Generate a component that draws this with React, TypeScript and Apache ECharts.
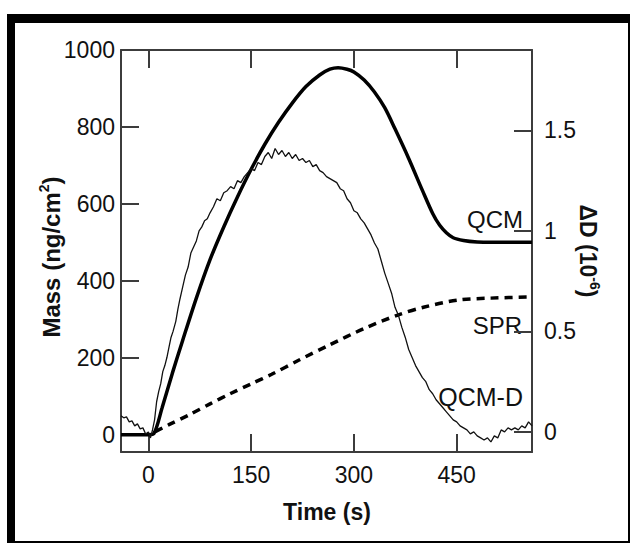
import React, { useEffect, useRef } from "react";
import * as echarts from "echarts";

// ---- data ----
const qcmTime = [-40, 0, 8, 20, 35, 50, 70, 90, 110, 130, 150, 170, 190, 210, 230, 250, 265, 277, 290, 300, 315, 330, 345, 360, 380, 400, 415, 425, 435, 445, 460, 480, 500, 530, 560];
const qcmMass = [0, 0, 3, 70, 160, 245, 355, 455, 540, 618, 690, 755, 812, 862, 905, 935, 950, 954, 950, 943, 922, 891, 850, 795, 718, 635, 575, 545, 525, 512, 505, 501, 500, 500, 500];

const sprTime = [10, 30, 60, 90, 120, 150, 180, 220, 264, 315, 364, 403, 452, 500, 560];
const sprMass = [8, 26, 52, 80, 107, 132, 157, 194, 233, 276, 311, 332, 350, 355, 358];

const qcmdTime = [-40, -36, -32, -28, -24, -20, -16, -12, -8, -4, 0, 3, 6, 9, 12, 15, 18, 21, 24, 27, 30, 33, 36, 40, 43, 46, 50, 54, 58, 62, 66, 70, 74, 78, 82, 86, 90, 95, 100, 105, 110, 115, 120, 125, 130, 135, 140, 145, 150, 155, 160, 165, 170, 175, 180, 185, 190, 195, 200, 205, 210, 215, 220, 225, 230, 235, 240, 245, 250, 255, 260, 265, 270, 275, 280, 285, 290, 295, 300, 305, 310, 315, 320, 325, 330, 335, 340, 345, 350, 355, 360, 365, 370, 375, 380, 385, 390, 395, 400, 405, 410, 415, 420, 425, 430, 435, 440, 445, 450, 455, 460, 465, 470, 475, 480, 485, 490, 495, 500, 505, 510, 515, 520, 525, 530, 535, 540, 545, 550, 555, 560];
const qcmdD = [0.08, 0.07, 0.075, 0.05, 0.055, 0.03, 0.04, 0.015, 0.02, -0.01, 0.0, -0.03, 0.01, 0.06, 0.15, 0.2, 0.24, 0.3, 0.33, 0.37, 0.42, 0.47, 0.5, 0.55, 0.61, 0.66, 0.72, 0.78, 0.82, 0.89, 0.92, 0.95, 1.0, 1.02, 1.05, 1.06, 1.09, 1.12, 1.16, 1.15, 1.19, 1.2, 1.22, 1.21, 1.25, 1.24, 1.27, 1.29, 1.31, 1.3, 1.34, 1.33, 1.37, 1.39, 1.36, 1.41, 1.38, 1.4, 1.37, 1.39, 1.36, 1.38, 1.35, 1.36, 1.34, 1.35, 1.32, 1.33, 1.3, 1.29, 1.27, 1.26, 1.25, 1.24, 1.21, 1.2, 1.16, 1.14, 1.1, 1.09, 1.06, 1.04, 1.01, 0.98, 0.94, 0.91, 0.85, 0.79, 0.74, 0.69, 0.62, 0.58, 0.52, 0.47, 0.41, 0.37, 0.33, 0.3, 0.27, 0.25, 0.21, 0.19, 0.16, 0.14, 0.12, 0.1, 0.08, 0.06, 0.05, 0.03, 0.02, 0.01, -0.01, 0.0, -0.02, -0.03, -0.04, -0.03, -0.05, -0.02, -0.03, 0.01, 0.0, 0.02, 0.01, 0.02, 0.01, 0.03, 0.02, 0.05, 0.03];

const xTicks = [0, 150, 300, 450];
const massTicks = [0, 200, 400, 600, 800, 1000];
const dTicks = [0, 0.5, 1, 1.5];

const FONT = "Liberation Sans, Arial, Helvetica, sans-serif";
const AX = "#3c3c3c";

function zip(a: number[], b: number[]) {
  return a.map((v, i) => [v, b[i]]);
}

export default function App() {
  const ref = useRef<HTMLDivElement>(null);
  useEffect(() => {
    if (!ref.current) return;
    const chart = echarts.init(ref.current, undefined, { renderer: "svg" });
    const axisLine = { show: true, onZero: false, lineStyle: { color: AX, width: 2 } };
    const tick = (vals: number[]) => ({ show: true, inside: true, length: 18, customValues: vals, lineStyle: { color: AX, width: 2 } });
    const lbl = { color: "#111", fontSize: 23, fontFamily: FONT, formatter: (v: number) => String(v) };
    chart.setOption({
      animation: false,
      backgroundColor: "transparent",
      grid: { left: 121, top: 50, width: 411, height: 402, show: false },
      xAxis: [
        {
          type: "value", min: -40, max: 560, position: "bottom",
          axisLine, axisTick: tick(xTicks), splitLine: { show: false },
          axisLabel: { ...lbl, margin: 11, customValues: xTicks },
        },
        {
          type: "value", min: -40, max: 560, position: "top",
          axisLine, axisTick: tick(xTicks), splitLine: { show: false },
          axisLabel: { show: false },
        },
      ],
      yAxis: [
        {
          type: "value", min: -45, max: 1000, position: "left",
          axisLine, axisTick: tick(massTicks), splitLine: { show: false },
          axisLabel: { ...lbl, margin: 6, customValues: massTicks },
        },
        {
          type: "value", min: -0.1, max: 1.9, position: "right",
          axisLine, axisTick: tick(dTicks), splitLine: { show: false },
          axisLabel: { ...lbl, margin: 12, customValues: dTicks },
        },
      ],
      series: [
        {
          name: "QCM", type: "line", xAxisIndex: 0, yAxisIndex: 0,
          data: zip(qcmTime, qcmMass), showSymbol: false, smooth: 0.3,
          lineStyle: { color: "#000", width: 3.5 }, z: 3,
        },
        {
          name: "SPR", type: "line", xAxisIndex: 0, yAxisIndex: 0,
          data: zip(sprTime, sprMass), showSymbol: false, smooth: 0.3,
          lineStyle: { color: "#000", width: 3.5, type: [8, 6] }, z: 3,
        },
        {
          name: "QCM-D", type: "line", xAxisIndex: 0, yAxisIndex: 1,
          data: zip(qcmdTime, qcmdD), showSymbol: false,
          lineStyle: { color: "#111", width: 1.3 }, z: 4,
        },
      ],
      graphic: [
        {
          type: "text", x: 51, y: 257, rotation: Math.PI / 2,
          style: {
            text: "Mass (ng/cm{sup|2})", fill: "#111", font: `bold 24px ${FONT}`,
            align: "center", verticalAlign: "middle",
            rich: { sup: { fontSize: 14, fontWeight: "bold", fontFamily: FONT, verticalAlign: "top", lineHeight: 28, fill: "#111" } },
          },
        },
        {
          type: "text", x: 588, y: 251, rotation: -Math.PI / 2,
          style: {
            text: "ΔD (10{sup|-6})", fill: "#111", font: `bold 23px ${FONT}`,
            align: "center", verticalAlign: "middle",
            rich: { sup: { fontSize: 14, fontWeight: "bold", fontFamily: FONT, verticalAlign: "top", lineHeight: 28, fill: "#111" } },
          },
        },
        {
          type: "text", x: 327, y: 512,
          style: { text: "Time (s)", fill: "#111", font: `bold 23px ${FONT}`, align: "center", verticalAlign: "middle" },
        },
        {
          type: "text", x: 523, y: 219,
          style: { text: "QCM", fill: "#111", font: `24px ${FONT}`, align: "right", verticalAlign: "middle" },
        },
        {
          type: "text", x: 522, y: 325,
          style: { text: "SPR", fill: "#111", font: `24px ${FONT}`, align: "right", verticalAlign: "middle" },
        },
        {
          type: "text", x: 523, y: 397,
          style: { text: "QCM-D", fill: "#111", font: `25px ${FONT}`, align: "right", verticalAlign: "middle" },
        },
      ],
    });
    return () => chart.dispose();
  }, []);
  return (
    <div style={{ position: "absolute", left: 0, top: 0, width: 630, height: 544, background: "#fff" }}>
      <div style={{ position: "absolute", left: 7, top: 14, width: 623, height: 529, background: "#000" }} />
      <div style={{ position: "absolute", left: 15, top: 23, width: 613, height: 518, background: "#fff" }} />
      <div ref={ref} style={{ position: "absolute", left: 0, top: 0, width: 630, height: 544 }} />
    </div>
  );
}
